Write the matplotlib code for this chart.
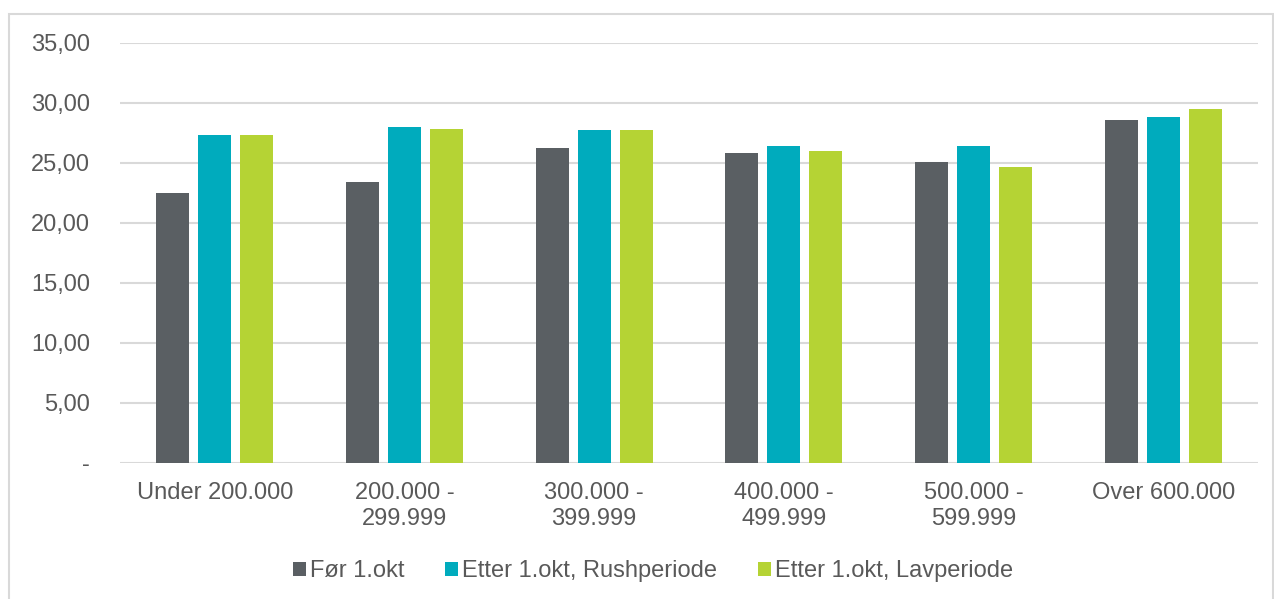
import numpy as np
import matplotlib.pyplot as plt
from matplotlib.patches import Rectangle
from matplotlib.ticker import FuncFormatter

plt.rcParams['font.family'] = ['Liberation Sans', 'DejaVu Sans']

categories = ['Under 200.000', '200.000 -\n299.999', '300.000 -\n399.999',
              '400.000 -\n499.999', '500.000 -\n599.999', 'Over 600.000']
for_okt = [22.46, 23.38, 26.18, 25.79, 25.07, 28.54]
rush = [27.29, 27.96, 27.73, 26.38, 26.35, 28.79]
lav = [27.31, 27.77, 27.68, 25.96, 24.63, 29.43]
series_names = ['Før 1.okt', 'Etter 1.okt, Rushperiode', 'Etter 1.okt, Lavperiode']
colors = ['#5A5F63', '#00ABBD', '#B5D334']

txt = '#595959'
grid = '#D9D9D9'

fig = plt.figure(figsize=(12.74, 5.99), dpi=100)
fig.patches.append(Rectangle((8.5/1274, -0.01), (1264)/1274, (599-13.5)/599 + 0.01,
                             transform=fig.transFigure, fill=False,
                             edgecolor=grid, linewidth=1.5))
ax = fig.add_axes([120/1274, (599-462.5)/599, 1138/1274, 420/599])

x = np.arange(len(categories))
w = 33/190
off = 42/190
for k, (vals, name, c) in enumerate(zip([for_okt, rush, lav], series_names, colors)):
    ax.bar(x + (k-1)*off, vals, w, color=c, label=name, zorder=3)

ax.set_xlim(-0.5, len(categories)-0.5)
ax.set_ylim(0, 35)
ax.set_yticks(np.arange(0, 36, 5))
ax.yaxis.set_major_formatter(FuncFormatter(
    lambda v, p: '-' if v == 0 else f'{v:.2f}'.replace('.', ',')))
ax.set_xticks(x)
ax.set_xticklabels(categories, linespacing=1.25)
ax.grid(axis='y', color=grid, linewidth=1.5, zorder=0)
for s in ax.spines.values():
    s.set_visible(False)
ax.tick_params(axis='y', length=0, pad=21.5, labelsize=17, labelcolor=txt)
ax.tick_params(axis='x', length=0, pad=14, labelsize=17, labelcolor=txt)

fig.legend(loc='center', bbox_to_anchor=(653/1274, 1-571/599), ncol=3,
           frameon=False, fontsize=17, labelcolor=txt,
           handlelength=0.55, handleheight=0.55, handletextpad=0.15,
           columnspacing=1.75)

fig.savefig('out.png', dpi=100)
